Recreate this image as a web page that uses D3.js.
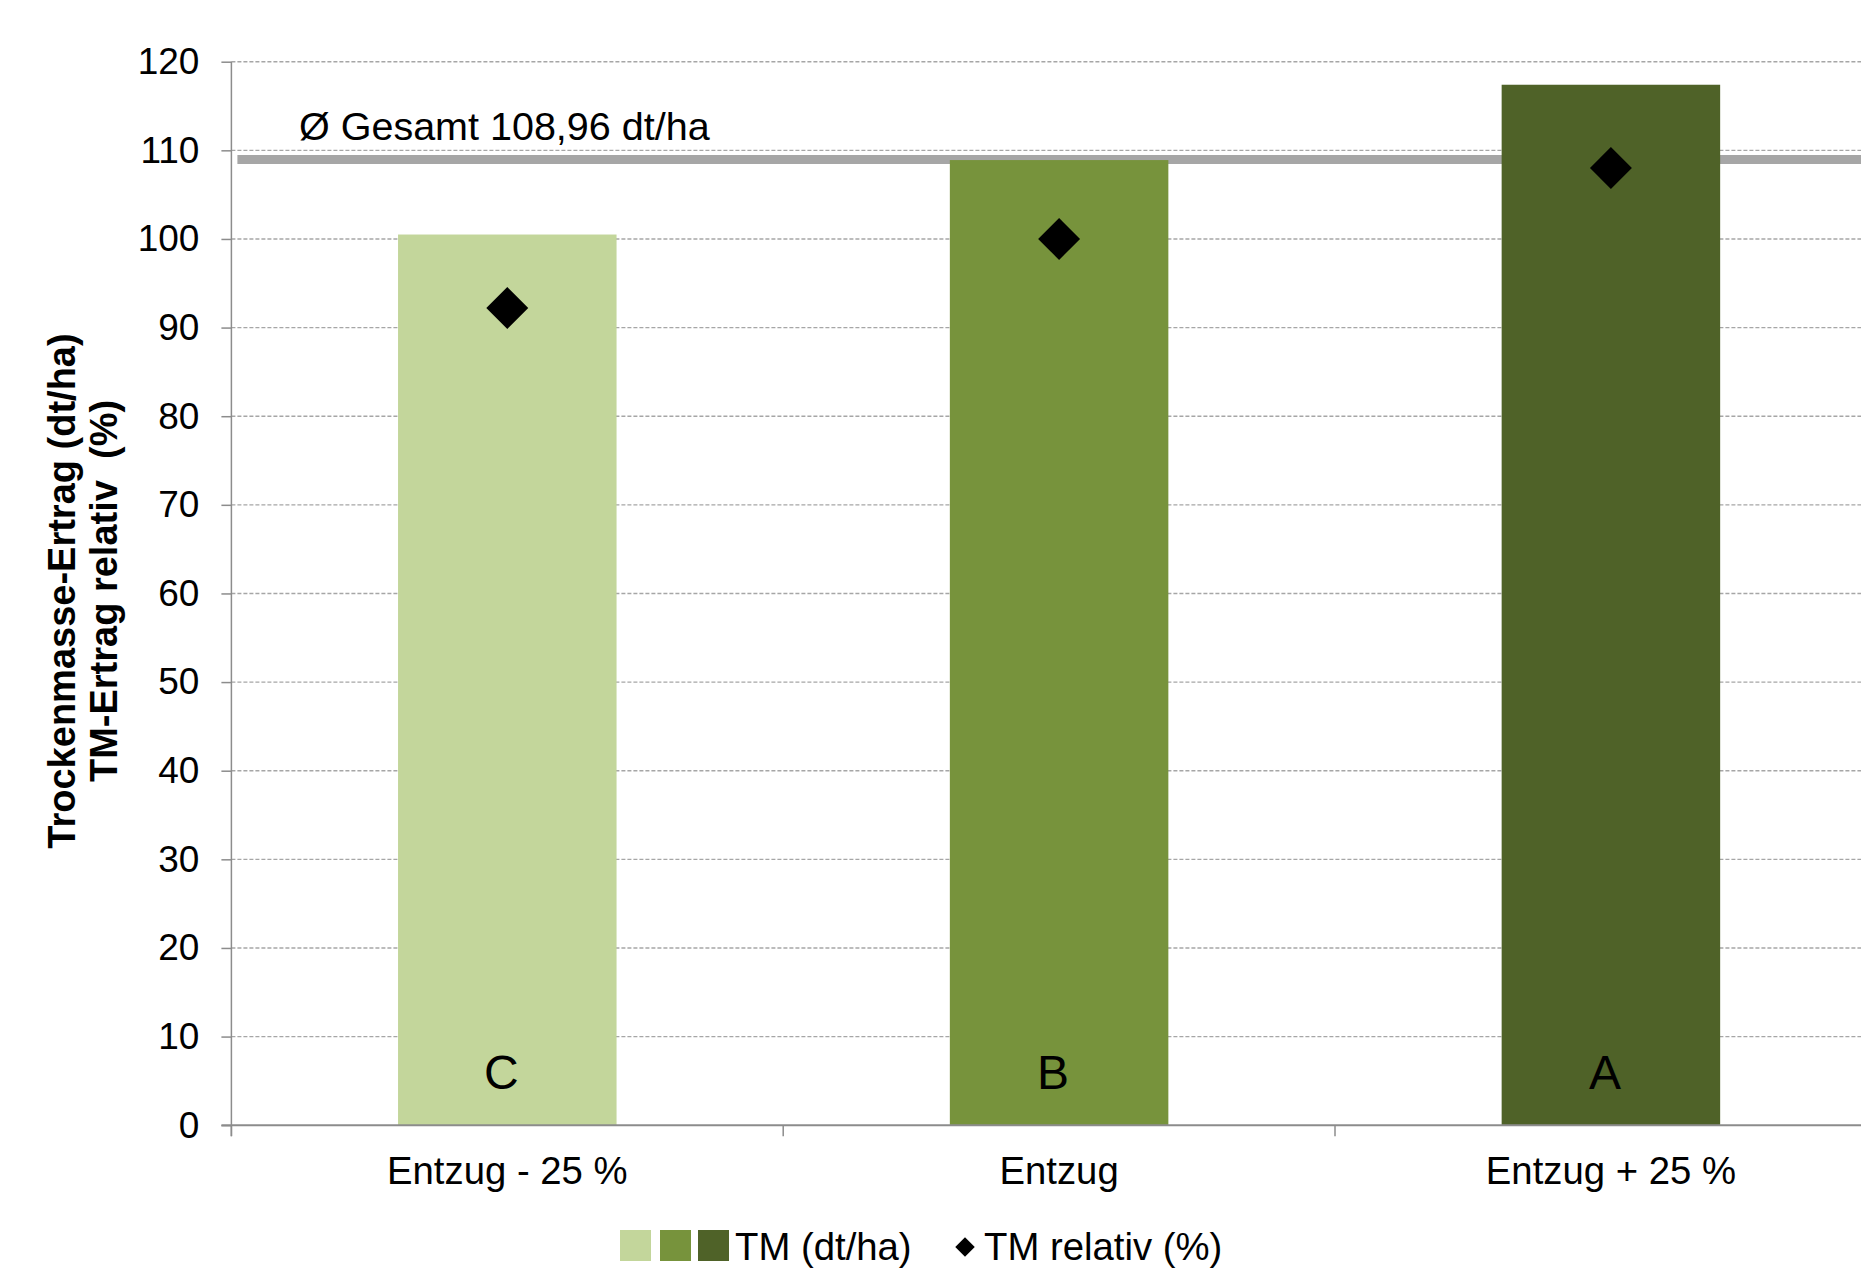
<!DOCTYPE html>
<html>
<head>
<meta charset="utf-8">
<script src="https://cdn.jsdelivr.net/npm/d3@7"></script>
<style>
  html, body { margin: 0; padding: 0; background: #fff; }
  svg { display: block; font-family: "Liberation Sans", Arial, sans-serif; }
</style>
</head>
<body>
<svg id="chart" width="1861" height="1280"></svg>
<script>
// Dry-matter yield per fertilisation level
const categories = ["Entzug - 25 %", "Entzug", "Entzug + 25 %"];
const tmYield = [100.5, 108.9, 117.4];          // TM (dt/ha)
const tmRelative = [92.2, 100, 108.0];          // TM relativ (%)
const groupLetters = ["C", "B", "A"];
const barColors = ["#c3d69b", "#77933c", "#4f6228"];
const overallMean = 108.96;                      // Ø Gesamt dt/ha
const yTicks = [0, 10, 20, 30, 40, 50, 60, 70, 80, 90, 100, 110, 120];

const svg = d3.select("#chart");
const plotLeft = 231.4, plotTop = 61.7, plotBottom = 1125.2, plotRight = 1886.8;

const x = d3.scaleBand()
  .domain(categories)
  .range([plotLeft, plotRight])
  .paddingInner(0.604)
  .paddingOuter(0.302);

const y = d3.scaleLinear().domain([0, 120]).range([plotBottom, plotTop]);

// dashed horizontal gridlines
svg.append("g")
  .selectAll("line")
  .data(yTicks.filter(d => d > 0))
  .join("line")
  .attr("x1", plotLeft).attr("x2", 1861)
  .attr("y1", d => y(d)).attr("y2", d => y(d))
  .attr("stroke", "#a6a6a6")
  .attr("stroke-width", 1.4)
  .attr("stroke-dasharray", "4,2");

// overall mean reference line
svg.append("line")
  .attr("x1", plotLeft + 6).attr("x2", 1861)
  .attr("y1", y(overallMean)).attr("y2", y(overallMean))
  .attr("stroke", "#a6a6a6")
  .attr("stroke-width", 9);

svg.append("text")
  .attr("x", 299).attr("y", y(overallMean) - 20)
  .attr("font-size", 39.5)
  .attr("fill", "#000")
  .text("Ø Gesamt " + d3.format(".2f")(overallMean).replace(".", ",") + " dt/ha");

// bars
svg.append("g")
  .selectAll("rect")
  .data(categories)
  .join("rect")
  .attr("x", d => x(d))
  .attr("width", x.bandwidth())
  .attr("y", (d, i) => y(tmYield[i]))
  .attr("height", (d, i) => y(0) - y(tmYield[i]))
  .attr("fill", (d, i) => barColors[i]);

// significance letters inside bars
svg.append("g")
  .selectAll("text")
  .data(categories)
  .join("text")
  .attr("x", d => x(d) + x.bandwidth() / 2 - 6)
  .attr("y", y(0) - 36)
  .attr("text-anchor", "middle")
  .attr("font-size", 48)
  .attr("fill", "#000")
  .text((d, i) => groupLetters[i]);

// relative yield markers (diamonds)
const diamond = d3.symbol().type(d3.symbolSquare).size(880);
svg.append("g")
  .selectAll("path")
  .data(categories)
  .join("path")
  .attr("d", diamond)
  .attr("transform", (d, i) => `translate(${x(d) + x.bandwidth() / 2},${y(tmRelative[i])}) rotate(45)`)
  .attr("fill", "#000");

// y axis
const yAxis = d3.axisLeft(y).tickValues(yTicks).tickSize(10).tickPadding(22);
const gy = svg.append("g").attr("transform", `translate(${plotLeft},0)`).call(yAxis);
gy.select(".domain").attr("stroke", "#8c8c8c").attr("stroke-width", 1.5)
  .attr("d", `M0,${plotTop}V${plotBottom + 11}`);
gy.selectAll(".tick line").attr("stroke", "#8c8c8c").attr("stroke-width", 1.5);
gy.selectAll(".tick text")
  .attr("font-size", 37)
  .attr("font-family", "Liberation Sans, Arial, sans-serif")
  .attr("fill", "#000");

// x axis baseline with category boundary ticks
svg.append("line")
  .attr("x1", plotLeft - 10).attr("x2", 1861)
  .attr("y1", plotBottom).attr("y2", plotBottom)
  .attr("stroke", "#8c8c8c").attr("stroke-width", 2);
svg.append("g")
  .selectAll("line")
  .data(d3.range(categories.length + 1))
  .join("line")
  .attr("x1", i => plotLeft + i * x.step()).attr("x2", i => plotLeft + i * x.step())
  .attr("y1", plotBottom).attr("y2", plotBottom + 11)
  .attr("stroke", "#8c8c8c").attr("stroke-width", 1.5);

svg.append("g")
  .selectAll("text")
  .data(categories)
  .join("text")
  .attr("x", d => x(d) + x.bandwidth() / 2)
  .attr("y", 1184)
  .attr("text-anchor", "middle")
  .attr("font-size", 38.3)
  .attr("fill", "#000")
  .text(d => d);

// y axis title (two lines)
const titleCy = 591;
[["Trockenmasse-Ertrag (dt/ha)", 75], ["TM-Ertrag relativ  (%)", 117]].forEach(([t, bx]) => {
  svg.append("text")
    .attr("transform", `translate(${bx},${titleCy}) rotate(-90)`)
    .attr("text-anchor", "middle")
    .attr("font-size", 38)
    .attr("font-weight", "bold")
    .attr("fill", "#000")
    .style("white-space", "pre")
    .text(t);
});

// legend
const legend = svg.append("g");
const swatchX = [620, 660, 698];
legend.selectAll("rect")
  .data(barColors)
  .join("rect")
  .attr("x", (d, i) => swatchX[i])
  .attr("y", 1230)
  .attr("width", 31).attr("height", 31)
  .attr("fill", d => d);
legend.append("text")
  .attr("x", 735).attr("y", 1260)
  .attr("font-size", 38.3).attr("fill", "#000")
  .text("TM (dt/ha)");
legend.append("path")
  .attr("d", d3.symbol().type(d3.symbolSquare).size(190))
  .attr("transform", "translate(965,1247) rotate(45)")
  .attr("fill", "#000");
legend.append("text")
  .attr("x", 984).attr("y", 1260)
  .attr("font-size", 38.3).attr("fill", "#000")
  .text("TM relativ (%)");
</script>
</body>
</html>
